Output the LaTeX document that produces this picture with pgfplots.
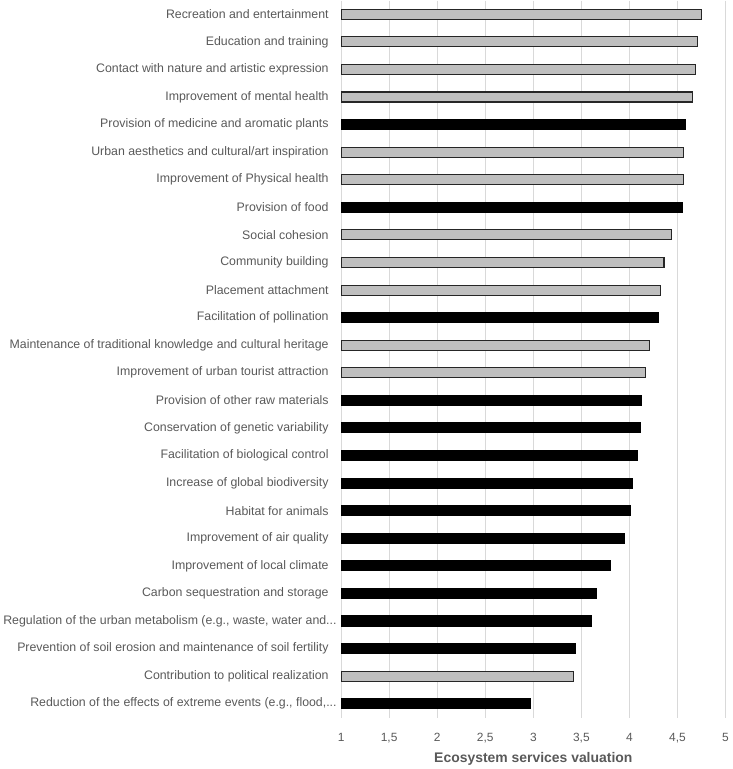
\documentclass[border=0pt]{standalone}
\usepackage{fontspec}
\setmainfont{Liberation Sans}
\usepackage{pgfplots}
\pgfplotsset{compat=1.18}
\definecolor{txt}{HTML}{595959}
\definecolor{barg}{HTML}{BFBFBF}
\definecolor{gridc}{HTML}{D9D9D9}

% valuation per service, row 0 at the top
\pgfplotstableread{
row val
0  4.75
1  4.71
2  4.69
3  4.66
5  4.56
6  4.56
8  4.44
9  4.36
10 4.32
12 4.21
13 4.17
24 3.42
}\cultural
\pgfplotstableread{
row val
4  4.58
7  4.55
11 4.30
14 4.13
15 4.11
16 4.08
17 4.03
18 4.01
19 3.95
20 3.80
21 3.66
22 3.60
23 3.44
25 2.97
}\ecological

% truncated labels sit closer to the axis
\newcommand{\trunc}[1]{#1.\kern0pt.\kern0pt.\kern-8bp}

\begin{document}
\begin{tikzpicture}
\begin{axis}[
  scale only axis, width=385bp, height=718bp,
  xmin=1, xmax=5, ymin=-0.5, ymax=25.5, y dir=reverse,
  xtick={1,1.5,2,2.5,3,3.5,4,4.5,5},
  xticklabels={1,{1,5},2,{2,5},3,{3,5},4,{4,5},5},
  ytick={0,...,25},
  yticklabels={
    {Recreation and entertainment},
    {Education and training},
    {Contact with nature and artistic expression},
    {Improvement of mental health},
    {Provision of medicine and aromatic plants},
    {Urban aesthetics and cultural/art inspiration},
    {Improvement of Physical health},
    {Provision of food},
    {Social cohesion},
    {Community building},
    {Placement attachment},
    {Facilitation of pollination},
    {Maintenance of traditional knowledge and cultural heritage},
    {Improvement of urban tourist attraction},
    {Provision of other raw materials},
    {Conservation of genetic variability},
    {Facilitation of biological control},
    {Increase of global biodiversity},
    {Habitat for animals},
    {Improvement of air quality},
    {Improvement of local climate},
    {Carbon sequestration and storage},
    {\trunc{Regulation of the urban metabolism (e.g., waste, water and}},
    {Prevention of soil erosion and maintenance of soil fertility},
    {Contribution to political realization},
    {\trunc{Reduction of the effects of extreme events (e.g., flood,}}},
  /pgf/number format/assume math mode=true,
  yticklabel style={font=\fontsize{12.4}{14}\selectfont, text=txt, xshift=-9bp},
  xticklabel style={font=\fontsize{12}{14}\selectfont, text=txt, yshift=-12bp},
  xlabel={\textbf{Ecosystem services valuation}},
  xlabel style={font=\fontsize{14}{16}\selectfont, text=txt, yshift=-3bp},
  major tick length=0pt,
  axis line style={draw=none},
  xmajorgrids, grid style={gridc, line width=1bp},
  xbar, bar width=10bp, bar shift=0pt,
  clip=true,
]
\addplot[fill=barg, draw=black!85, line width=1.1bp] table[x=val, y=row] {\cultural};
\addplot[fill=black, draw=black, line width=1.1bp] table[x=val, y=row] {\ecological};
\end{axis}
\end{tikzpicture}
\end{document}
